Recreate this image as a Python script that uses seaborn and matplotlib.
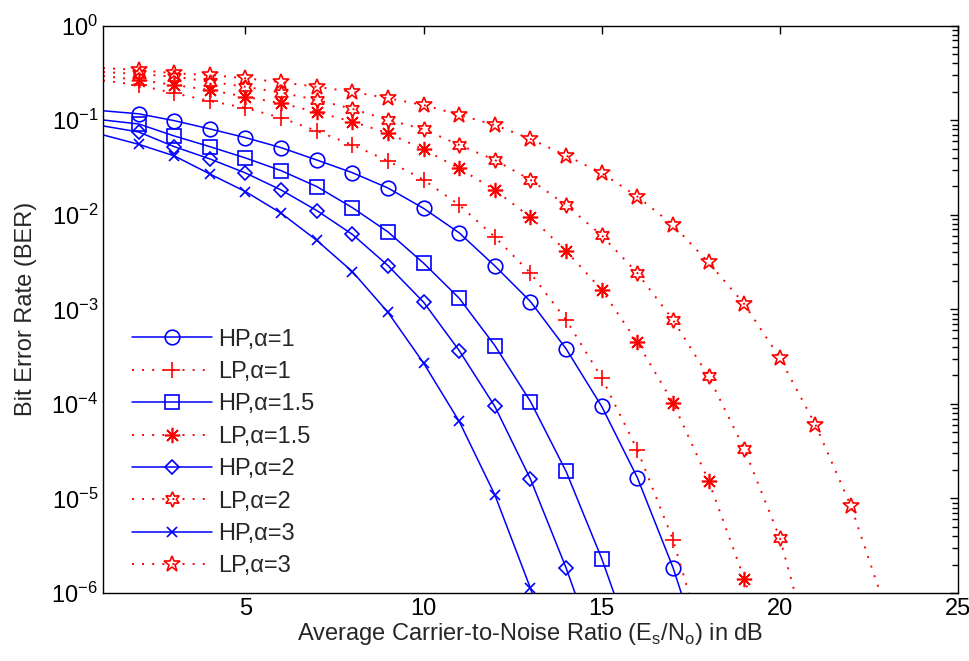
import numpy as np
import pandas as pd
import matplotlib
matplotlib.use("Agg")
import matplotlib.pyplot as plt
import seaborn as sns

# MATLAB-like white style
sns.set_style("white")
plt.rcParams['font.family'] = ['Liberation Sans', 'DejaVu Sans']

# Bit error rate values (SNR in dB at integer steps from 1)
ber_hp_a1 = [1.26e-1, 1.17e-1, 9.9e-2, 8.1e-2, 6.55e-2, 5.13e-2, 3.8e-2, 2.79e-2, 1.92e-2,
             1.17e-2, 6.44e-3, 2.88e-3, 1.21e-3, 3.82e-4, 9.4e-5, 1.66e-5, 1.86e-6, 1.3e-7]
ber_lp_a1 = [2.63e-1, 2.36e-1, 1.93e-1, 1.6e-1, 1.35e-1, 1.06e-1, 7.71e-2, 5.48e-2, 3.72e-2,
             2.34e-2, 1.27e-2, 5.83e-3, 2.42e-3, 7.74e-4, 1.89e-4, 3.27e-5, 3.66e-6, 2.0e-7]
ber_hp_a15 = [1.007e-1, 9.14e-2, 6.82e-2, 5.26e-2, 3.99e-2, 2.93e-2, 1.99e-2, 1.19e-2, 6.59e-3,
              3.08e-3, 1.31e-3, 4.14e-4, 1.06e-4, 1.93e-5, 2.31e-6, 2.0e-7]
ber_lp_a15 = [2.94e-1, 2.67e-1, 2.36e-1, 2.09e-1, 1.77e-1, 1.51e-1, 1.22e-1, 9.66e-2, 7.3e-2,
              4.91e-2, 3.1e-2, 1.83e-2, 9.44e-3, 4.15e-3, 1.61e-3, 4.47e-4, 1.03e-4, 1.54e-5,
              1.42e-6, 1.0e-7]
ber_hp_a2 = [8.71e-2, 7.52e-2, 5.26e-2, 3.9e-2, 2.77e-2, 1.83e-2, 1.11e-2, 6.21e-3, 2.9e-3,
             1.19e-3, 3.66e-4, 9.4e-5, 1.6e-5, 1.84e-6, 1.6e-7]
ber_lp_a2 = [3.24e-1, 3.08e-1, 2.89e-1, 2.56e-1, 2.26e-1, 1.96e-1, 1.64e-1, 1.32e-1, 1.01e-1,
             8.04e-2, 5.48e-2, 3.8e-2, 2.34e-2, 1.27e-2, 6.05e-3, 2.42e-3, 7.74e-4, 1.95e-4,
             3.35e-5, 3.81e-6, 1.6e-7]
ber_hp_a3 = [7.0e-2, 5.57e-2, 4.2e-2, 2.7e-2, 1.76e-2, 1.04e-2, 5.37e-3, 2.51e-3, 9.29e-4,
             2.7e-4, 6.52e-5, 1.09e-5, 1.12e-6, 8.0e-8]
ber_lp_a3 = [3.57e-1, 3.4e-1, 3.14e-1, 3.01e-1, 2.78e-1, 2.52e-1, 2.26e-1, 2.0e-1, 1.71e-1,
             1.45e-1, 1.14e-1, 8.91e-2, 6.34e-2, 4.23e-2, 2.77e-2, 1.56e-2, 7.82e-3, 3.13e-3,
             1.14e-3, 3.05e-4, 6.01e-5, 8.22e-6, 6.3e-7]

labels = ['HP,α=1', 'LP,α=1', 'HP,α=1.5', 'LP,α=1.5',
          'HP,α=2', 'LP,α=2', 'HP,α=3', 'LP,α=3']
series = [ber_hp_a1, ber_lp_a1, ber_hp_a15, ber_lp_a15,
          ber_hp_a2, ber_lp_a2, ber_hp_a3, ber_lp_a3]

# style per curve: (color, linestyle, marker, markersize)
dotted = (0, (1, 4.2))
styles = [
    ('#0000ff', '-', 'o', 10.5),
    ('#ff0000', dotted, '+', 11),
    ('#0000ff', '-', 's', 10.5),
    ('#ff0000', dotted, (8, 2, 0), 11),
    ('#0000ff', '-', 'D', 7.5),
    ('#ff0000', dotted, (6, 1, 0), 11),
    ('#0000ff', '-', 'x', 7),
    ('#ff0000', dotted, '*', 12),
]

fs = 17

fig = plt.figure(figsize=(9.69, 6.61), dpi=100)
ax = fig.add_axes([0.1063, 0.1029, 0.8823, 0.8582])

for lab, ber, (col, ls, mk, ms) in zip(labels, series, styles):
    df = pd.DataFrame({'snr': np.arange(1, len(ber) + 1), 'ber': ber})
    lw = 1.1 if ls == '-' else 1.4
    sns.lineplot(data=df, x='snr', y='ber', ax=ax, color=col, linestyle=ls,
                 linewidth=lw, marker=mk, markersize=ms, markerfacecolor='none',
                 markeredgecolor=col, markeredgewidth=1.2,
                 markevery=list(range(1, len(ber))), label=lab)

ax.set_yscale('log')
ax.set_xlim(1, 25)
ax.set_ylim(1e-6, 1)
ax.set_xticks([5, 10, 15, 20, 25])

ax.tick_params(which='both', direction='in', top=True, right=True, colors='black',
               labelsize=fs)
ax.tick_params(which='major', length=6, width=1)
ax.tick_params(which='minor', length=4.5, width=1)
for sp in ax.spines.values():
    sp.set_color('black')
    sp.set_linewidth(1)

ax.set_xlabel('Average Carrier-to-Noise Ratio (E$_\\mathdefault{s}$/N$_\\mathdefault{o}$) in dB',
              fontsize=fs, labelpad=1)
ax.set_ylabel('Bit Error Rate (BER)', fontsize=fs, labelpad=10)

ax.legend(loc='upper left', bbox_to_anchor=(0.034, 0.466), frameon=False, fontsize=fs,
          handlelength=3.4, handletextpad=0.25, labelspacing=0.44, borderpad=0,
          borderaxespad=0)

plt.savefig('out.png', dpi=100)
